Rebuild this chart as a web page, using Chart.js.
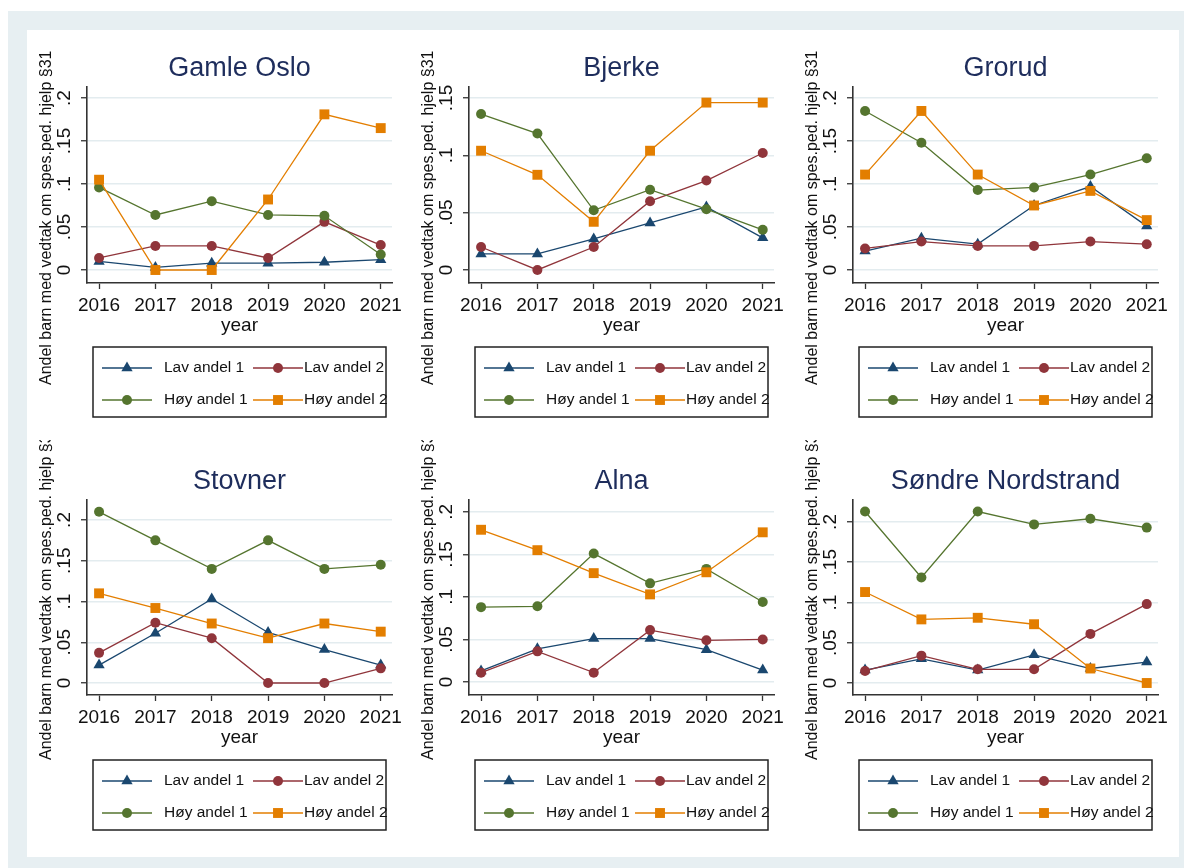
<!DOCTYPE html>
<html>
<head>
<meta charset="utf-8">
<script src="https://cdn.jsdelivr.net/npm/chart.js@4.4.1/dist/chart.umd.min.js"></script>
<style>
  body { margin: 0; background: #fff; width: 1184px; height: 868px; position: relative; overflow: hidden; }
  #frame { position: absolute; left: 8px; top: 11px; width: 1176px; height: 857px; background: #e7eff2; }
  #plotregion { position: absolute; left: 27px; top: 30px; width: 1152px; height: 827px; background: #fff; }
  canvas { position: absolute; }
</style>
</head>
<body>
<div id="frame"></div>
<div id="plotregion"></div>
<script>
const years = [2016, 2017, 2018, 2019, 2020, 2021];
const districts = ['Gamle Oslo', 'Bjerke', 'Grorud', 'Stovner', 'Alna', 'Søndre Nordstrand'];
const seriesNames = ['Lav andel 1', 'Lav andel 2', 'Høy andel 1', 'Høy andel 2'];
const yTitle = 'Andel barn med vedtak om spes.ped. hjelp §31';
const xTitle = 'year';

// one row per district, same order as districts
const lavAndel1 = [
    [0.010, 0.003, 0.008, 0.008, 0.009, 0.012],
    [0.014, 0.014, 0.027, 0.041, 0.055, 0.028],
    [0.022, 0.037, 0.030, 0.075, 0.097, 0.051],
    [0.022, 0.061, 0.103, 0.062, 0.041, 0.022],
    [0.013, 0.039, 0.051, 0.051, 0.038, 0.014],
    [0.016, 0.030, 0.016, 0.035, 0.018, 0.026]
];
const lavAndel2 = [
    [0.014, 0.028, 0.028, 0.014, 0.056, 0.029],
    [0.020, 0.000, 0.020, 0.060, 0.078, 0.102],
    [0.025, 0.033, 0.028, 0.028, 0.033, 0.030],
    [0.037, 0.074, 0.055, 0.000, 0.000, 0.018],
    [0.011, 0.036, 0.011, 0.061, 0.049, 0.050],
    [0.015, 0.034, 0.017, 0.017, 0.061, 0.098]
];
const hoyAndel1 = [
    [0.096, 0.064, 0.080, 0.064, 0.063, 0.018],
    [0.136, 0.119, 0.052, 0.070, 0.053, 0.035],
    [0.185, 0.148, 0.093, 0.096, 0.111, 0.130],
    [0.210, 0.175, 0.140, 0.175, 0.140, 0.145],
    [0.088, 0.089, 0.151, 0.116, 0.133, 0.094],
    [0.213, 0.131, 0.213, 0.197, 0.204, 0.193]
];
const hoyAndel2 = [
    [0.105, 0.000, 0.000, 0.082, 0.181, 0.165],
    [0.104, 0.083, 0.042, 0.104, 0.146, 0.146],
    [0.111, 0.185, 0.111, 0.075, 0.092, 0.058],
    [0.110, 0.092, 0.073, 0.055, 0.073, 0.063],
    [0.179, 0.155, 0.128, 0.103, 0.129, 0.176],
    [0.113, 0.079, 0.081, 0.073, 0.018, 0.000]
];

// y axis ticks and range per district
const yTicks = [
    [0, 0.05, 0.1, 0.15, 0.2],
    [0, 0.05, 0.1, 0.15],
    [0, 0.05, 0.1, 0.15, 0.2],
    [0, 0.05, 0.1, 0.15, 0.2],
    [0, 0.05, 0.1, 0.15, 0.2],
    [0, 0.05, 0.1, 0.15, 0.2]
];
const yMin = [-0.0151, -0.0114, -0.0152, -0.0147, -0.0153, -0.0149];
const yMax = [0.2128, 0.1596, 0.2129, 0.2245, 0.2140, 0.2273];

// --- styling ---
const FONT = "'Liberation Sans', Arial, sans-serif";
const colors = ['#1a476f', '#90353b', '#55752f', '#e37e00'];
const markers = ['triangle', 'circle', 'circle', 'rect'];
const markerRadius = [6.5, 5, 5, 7];

const colLeft = [25, 407, 791];
const rowTop = [30, 440];
const canvasH = [410, 417];
const plotTop = [57, 60];
const padBottom = [101, 106];
const yTitleOffset = [102, 65];

Chart.defaults.font.family = FONT;
Chart.defaults.color = '#111';

// Stata-like panel decorations: title, rotated y labels, y title, boxed legend
const stataPanel = {
    id: 'stataPanel',
    afterDraw(chart, args, opts) {
        const { ctx, chartArea: area } = chart;
        const y = chart.scales.y;
        ctx.save();

        ctx.font = `27px ${FONT}`;
        ctx.fillStyle = '#1e2d5c';
        ctx.textAlign = 'center';
        ctx.textBaseline = 'alphabetic';
        ctx.fillText(opts.title, (area.left + area.right) / 2, area.top - 11);

        ctx.font = `19px ${FONT}`;
        ctx.fillStyle = '#111';
        y.ticks.forEach(t => {
            ctx.save();
            ctx.translate(area.left - 17, y.getPixelForValue(t.value));
            ctx.rotate(-Math.PI / 2);
            ctx.fillText(t.label, 0, 0);
            ctx.restore();
        });

        ctx.save();
        ctx.translate(area.left - 36, area.bottom + yTitleOffset[opts.row]);
        ctx.rotate(-Math.PI / 2);
        ctx.font = `16px ${FONT}`;
        ctx.textAlign = 'left';
        ctx.fillText(yTitle, 0, 0);
        ctx.restore();

        // legend
        const boxL = area.left + 6, boxT = area.bottom + 64 + opts.row;
        ctx.strokeStyle = '#222';
        ctx.lineWidth = 1.5;
        ctx.strokeRect(boxL, boxT, 293, 70);
        ctx.font = `15.5px ${FONT}`;
        ctx.textAlign = 'left';
        ctx.textBaseline = 'middle';
        chart.data.datasets.forEach((ds, k) => {
            const lx = boxL + (k % 2 ? 160 : 9);
            const ly = boxT + (k < 2 ? 21 : 53);
            ctx.strokeStyle = ds.borderColor;
            ctx.lineWidth = ds.borderWidth;
            ctx.beginPath();
            ctx.moveTo(lx, ly);
            ctx.lineTo(lx + 50, ly);
            ctx.stroke();
            ctx.fillStyle = ds.backgroundColor;
            Chart.helpers.drawPoint(ctx, { pointStyle: ds.pointStyle, radius: ds.pointRadius, rotation: 0, borderWidth: 0 }, lx + 25, ly);
            ctx.fillStyle = '#111';
            ctx.fillText(ds.label, lx + (k % 2 ? 51 : 62), ly);
        });
        ctx.restore();
    }
};

districts.forEach((name, i) => {
    const col = i % 3, row = Math.floor(i / 3);
    const canvas = document.createElement('canvas');
    canvas.width = 384;
    canvas.height = canvasH[row];
    canvas.style.left = colLeft[col] + 'px';
    canvas.style.top = rowTop[row] + 'px';
    document.body.appendChild(canvas);

    const values = [lavAndel1[i], lavAndel2[i], hoyAndel1[i], hoyAndel2[i]];

    new Chart(canvas, {
        type: 'line',
        data: {
            datasets: seriesNames.map((label, k) => ({
                label,
                data: years.map((yr, j) => ({ x: yr, y: values[k][j] })),
                borderColor: colors[k],
                backgroundColor: colors[k],
                borderWidth: 1.3,
                pointStyle: markers[k],
                pointRadius: markerRadius[k],
                pointBorderWidth: 0,
                order: 3 - k
            }))
        },
        options: {
            responsive: false,
            animation: false,
            events: [],
            layout: { padding: { top: plotTop[row], right: 17, bottom: padBottom[row], left: 0 } },
            plugins: {
                legend: { display: false },
                tooltip: { enabled: false },
                stataPanel: { title: name, row }
            },
            scales: {
                x: {
                    type: 'linear',
                    min: 2015.786,
                    max: 2021.2,
                    afterBuildTicks: s => { s.ticks = years.map(v => ({ value: v })); },
                    afterFit: s => { s.height = 56; },
                    ticks: { callback: v => String(v), color: '#111', font: { size: 19 }, padding: 5, maxRotation: 0, autoSkip: false },
                    grid: { drawOnChartArea: false, tickLength: 6, tickColor: '#333', tickWidth: 1.3 },
                    border: { color: '#333', width: 1.6 },
                    title: { display: true, text: xTitle, color: '#111', font: { size: 19 }, padding: { top: 0, bottom: 2 } }
                },
                y: {
                    min: yMin[i],
                    max: yMax[i],
                    afterBuildTicks: s => { s.ticks = yTicks[i].map(v => ({ value: v })); },
                    afterFit: s => { s.width = 62; },
                    ticks: { display: false, callback: v => v === 0 ? '0' : String(v).replace(/^0/, '') },
                    grid: { color: '#e3ecef', lineWidth: 1.5, tickLength: 6, tickColor: '#333', tickWidth: 1.3 },
                    border: { color: '#333', width: 1.6 }
                }
            }
        },
        plugins: [stataPanel]
    });
});
</script>
</body>
</html>
